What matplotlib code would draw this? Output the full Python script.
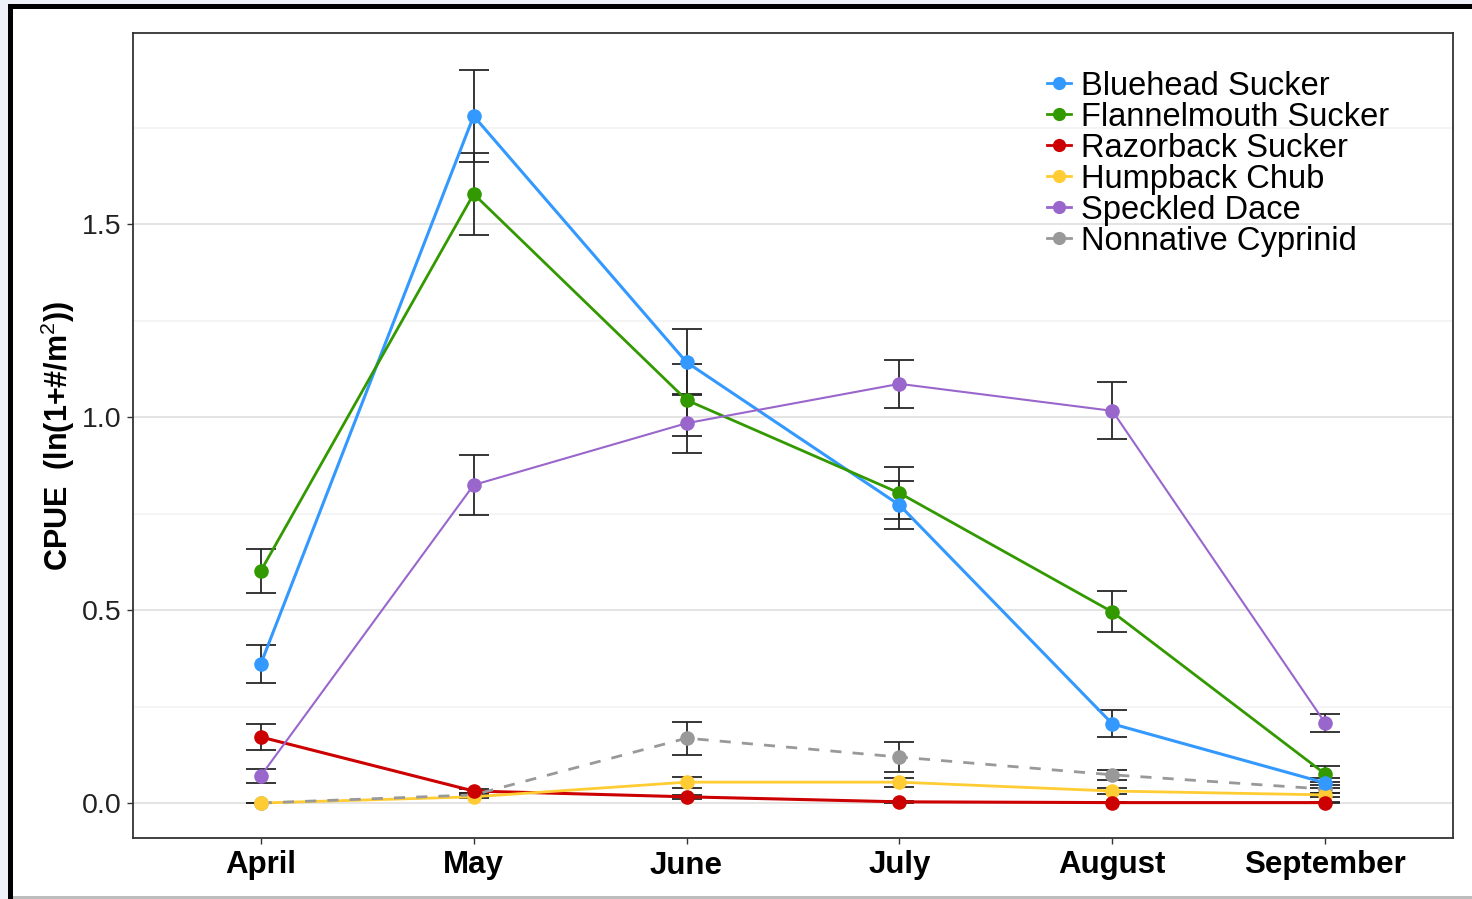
import matplotlib
matplotlib.use("Agg")
import matplotlib.pyplot as plt
from matplotlib.patches import Rectangle
from matplotlib.lines import Line2D

plt.rcParams['font.family'] = ['Liberation Sans', 'DejaVu Sans']
plt.rcParams['mathtext.fontset'] = 'custom'
plt.rcParams['mathtext.rm'] = 'Liberation Sans'
plt.rcParams['mathtext.bf'] = 'Liberation Sans:bold'

months = ["April", "May", "June", "July", "August", "September"]

species = ["Bluehead Sucker", "Flannelmouth Sucker", "Razorback Sucker",
           "Humpback Chub", "Speckled Dace", "Nonnative Cyprinid"]

bluehead_mean = [0.360, 1.780, 1.142, 0.772, 0.205, 0.052]
bluehead_se = [0.049, 0.120, 0.086, 0.061, 0.035, 0.012]

flannelmouth_mean = [0.601, 1.578, 1.044, 0.803, 0.495, 0.075]
flannelmouth_se = [0.058, 0.106, 0.093, 0.067, 0.053, 0.021]

razorback_mean = [0.171, 0.031, 0.016, 0.003, 0.001, 0.001]
razorback_se = [0.034, 0.006, 0.006, 0.002, 0.001, 0.001]

humpback_mean = [0.000, 0.016, 0.054, 0.054, 0.031, 0.021]
humpback_se = [0.000, 0.004, 0.014, 0.012, 0.008, 0.005]

dace_mean = [0.070, 0.824, 0.984, 1.086, 1.016, 0.207]
dace_se = [0.019, 0.078, 0.076, 0.062, 0.074, 0.023]

nonnative_mean = [0.000, 0.021, 0.168, 0.119, 0.073, 0.036]
nonnative_se = [0.000, 0.005, 0.043, 0.038, 0.013, 0.010]

colors = ["#3399FF", "#339900", "#CC0000", "#FFCC33", "#9966CC", "#999999"]
means = [bluehead_mean, flannelmouth_mean, razorback_mean,
         humpback_mean, dace_mean, nonnative_mean]
ses = [bluehead_se, flannelmouth_se, razorback_se,
       humpback_se, dace_se, nonnative_se]
styles = ["-", "-", "-", "-", "-", (0, (4, 4))]
widths = [2.2, 2.0, 2.2, 2.0, 1.5, 2.0]

fig = plt.figure(figsize=(14.72, 8.99), dpi=100)
fig.patch.set_facecolor("white")

# page frame around the figure
W, H = 1472, 899
def frac_rect(x0, y0, x1, y1, color):
    fig.patches.append(Rectangle((x0 / W, 1 - y1 / H), (x1 - x0) / W, (y1 - y0) / H,
                                 transform=fig.transFigure, facecolor=color,
                                 edgecolor="none", zorder=0))
frac_rect(0, 0, W, 4, "#eef2f8")
frac_rect(0, 0, 8, H, "#eef2f8")
frac_rect(8, 4, W, 9, "black")
frac_rect(8, 4, 13, H, "black")
frac_rect(13, 896, W, 899, "#bdbdbd")

ax = fig.add_axes([133 / W, 1 - 838 / H, (1453 - 133) / W, (838 - 33) / H])
x = list(range(len(months)))

for i in range(len(species)):
    ax.errorbar(x, means[i], yerr=ses[i], fmt="none", ecolor="#262626",
                elinewidth=1.3, capsize=11, capthick=1.3, zorder=2)
for i in range(len(species)):
    ax.plot(x, means[i], color=colors[i], linestyle=styles[i], lw=widths[i], zorder=3)
order = [5, 3, 4, 1, 0, 2]
for i in order:
    ax.plot(x, means[i], linestyle="none", marker="o", ms=10.5,
            color=colors[i], markeredgewidth=0, zorder=4)

ax.set_xlim(-0.6, 5.6)
ax.set_ylim(-0.0907, 1.995)
ax.set_xticks(x)
ax.set_xticklabels(months, fontsize=22.5, fontweight="bold", color="black")
ax.set_yticks([0.0, 0.5, 1.0, 1.5])
ax.set_yticklabels(["0.0", "0.5", "1.0", "1.5"], fontsize=20.5, color="#222222")
ax.set_yticks([0.25, 0.75, 1.25, 1.75], minor=True)
ax.tick_params(axis="x", length=4, width=1, color="#333333", pad=5)
ax.tick_params(axis="y", length=4, width=1, color="#333333", pad=4)
ax.tick_params(axis="y", which="minor", length=0)
ax.grid(axis="y", which="major", color="#dcdcdc", lw=1.1, zorder=0)
ax.grid(axis="y", which="minor", color="#f1f1f1", lw=1.1, zorder=0)
ax.set_axisbelow(True)
for s in ax.spines.values():
    s.set_color("#333333")
    s.set_linewidth(1.3)

ax.text((58 - 133) / 1320, 0.5, r"CPUE  (ln(1+#/m$^{2}$))", transform=ax.transAxes,
        rotation=90, ha="center", va="center", fontsize=22, fontweight="bold")

handles = [Line2D([0], [0], color=colors[i], lw=2, marker="o", ms=9.5,
                  markeredgewidth=0, linestyle="-") for i in range(len(species))]
ax.legend(handles, species, loc="upper left", bbox_to_anchor=((1047 - 133) / 1320, 0.953),
          frameon=False, fontsize=23.5, handlelength=0.75, handletextpad=0.3,
          labelspacing=0.0, borderpad=0, borderaxespad=0)

fig.savefig("out.png", dpi=100)
